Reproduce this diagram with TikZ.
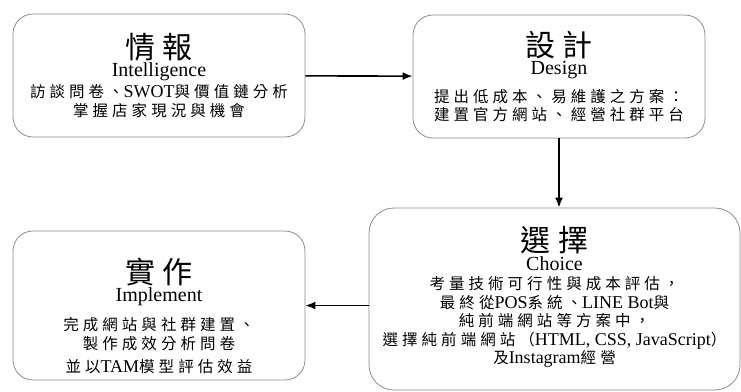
\documentclass[tikz,border=0pt]{standalone}
\usepackage{fontspec}
\usetikzlibrary{arrows.meta}
\setmainfont{Liberation Serif}
\newfontfamily\cjkfont[LetterSpace=26]{Noto Sans CJK TC}
\newcommand\cj[1]{{\fontsize{15.5}{18.5}\selectfont\cjkfont #1}}
\newcommand\headzh[1]{{\fontsize{30}{30}\selectfont\cjkfont #1}}
\newcommand\headen[1]{{\fontsize{20}{20}\selectfont #1}}

\begin{document}
\begin{tikzpicture}[x=1pt,y=-1pt,
    stage/.style={draw=gray!90, line width=0.8pt, rounded corners=20pt,
      align=center, inner sep=0pt, font=\fontsize{18}{18.5}\selectfont,
      minimum width=292pt, minimum height=123pt},
    flow/.style={line width=1.6pt, -{Latex[length=10pt,width=8pt]}}]
  \useasboundingbox (0,0) rectangle (741,391);

  % the four stages
  \node[stage] (intel) at (159,75.5)
    {\headzh{情報}\\ \headen{Intelligence}\\[2.5pt]
     \cj{訪談問卷、}SWOT\cj{與價值鏈分析}\\
     \cj{掌握店家現況與機會}};
  \node[stage] (design) at (559,76.5)
    {\headzh{設計}\\ \headen{Design}\\[9pt]
     \cj{提出低成本、易維護之方案：}\\
     \cj{建置官方網站、經營社群平台}};
  \node[stage, minimum width=371pt, minimum height=182pt,
    rounded corners=25pt] (choice) at (554.5,299)
    {\headzh{選擇}\\ \headen{Choice}\\[1pt]
     \cj{考量技術可行性與成本評估，}\\
     \cj{最終從}POS\cj{系統、}LINE Bot\cj{與}\\
     \cj{純前端網站等方案中，}\\
     \cj{選擇純前端網站（}HTML, CSS, JavaScript\cj{）}\\
     \cj{及}Instagram\cj{經營}\rule[-8pt]{0pt}{0pt}};
  \node[stage, minimum height=149pt] (impl) at (159,305.5)
    {\rule{0pt}{46pt}\headzh{實作}\\ \headen{Implement}\\[10pt]
     \cj{完成網站與社群建置、}\\[1pt]
     \cj{製作成效分析問卷}\\[4pt]
     \cj{並以}TAM\cj{模型評估效益}};

  % connectors
  \draw[flow] (intel) -- (design);
  \draw[flow] (design.south) -- (design.south |- choice.north);
  \draw[flow] (impl.east -| choice.west) -- (impl.east);
\end{tikzpicture}
\end{document}
